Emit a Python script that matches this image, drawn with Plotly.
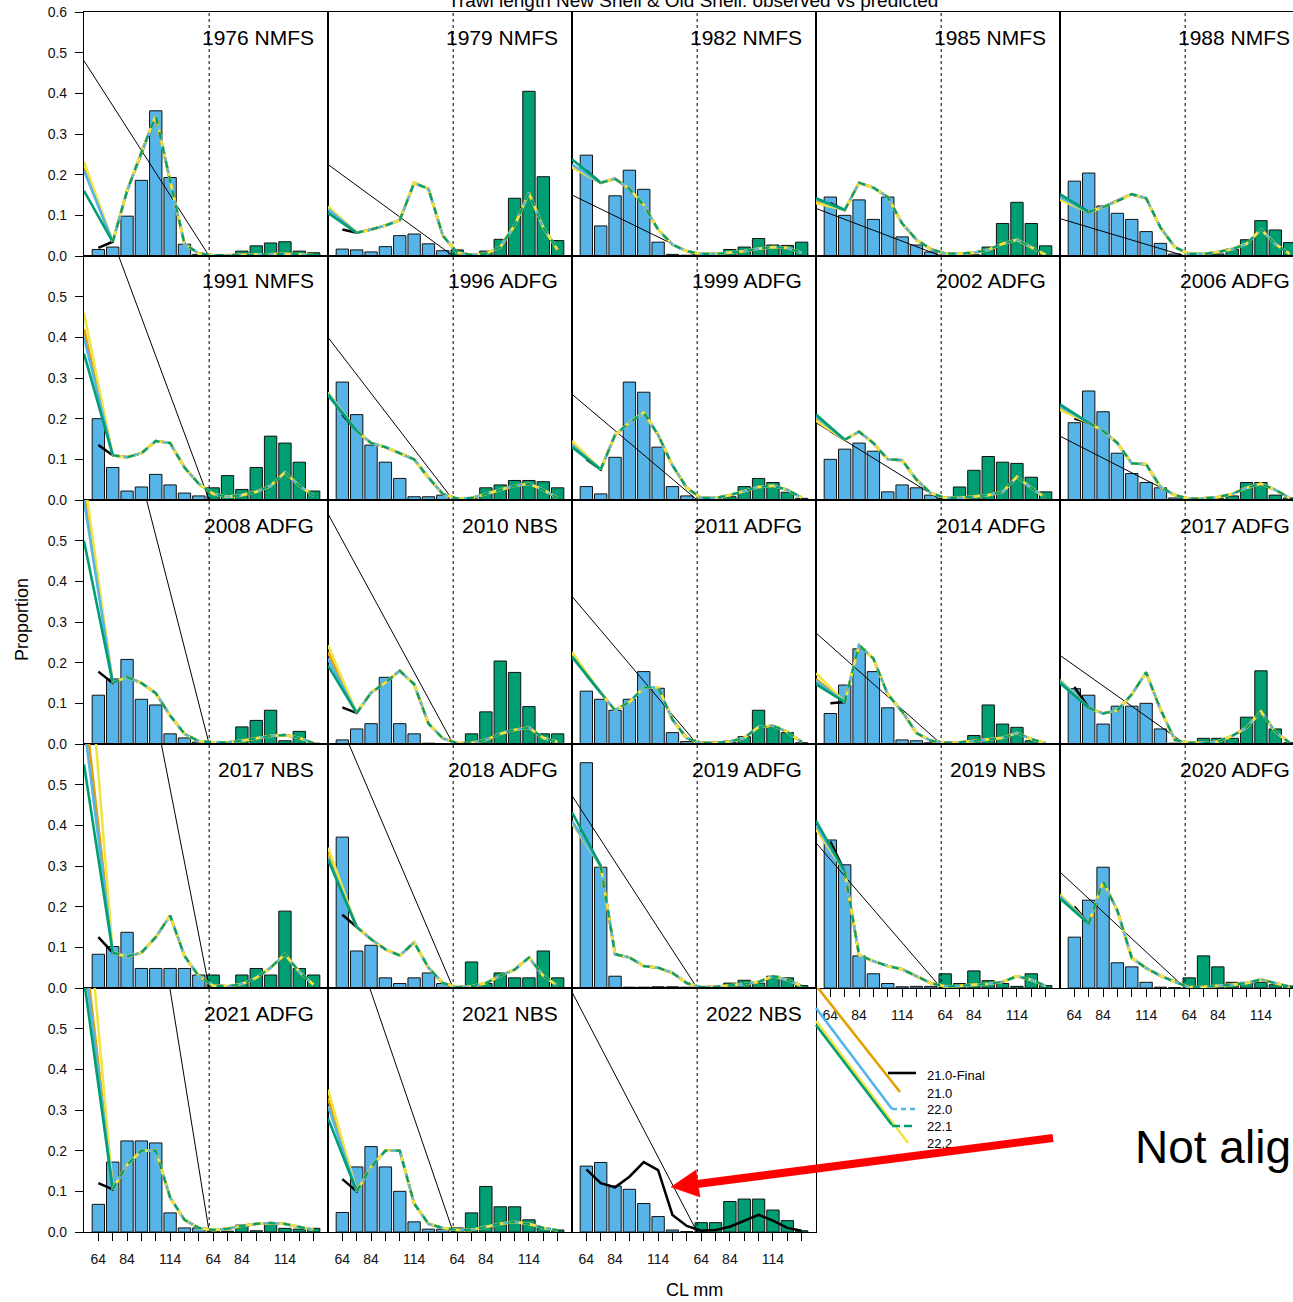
import plotly.graph_objects as go

W, H = 1293, 1302

# ---------------- data ----------------
panel_labels = ["1976 NMFS", "1979 NMFS", "1982 NMFS", "1985 NMFS", "1988 NMFS",
                "1991 NMFS", "1996 ADFG", "1999 ADFG", "2002 ADFG", "2006 ADFG",
                "2008 ADFG", "2010 NBS", "2011 ADFG", "2014 ADFG", "2017 ADFG",
                "2017 NBS", "2018 ADFG", "2019 ADFG", "2019 NBS", "2020 ADFG",
                "2021 ADFG", "2021 NBS", "2022 NBS"]

new_shell_obs = [
    [0.016, 0.022, 0.098, 0.186, 0.357, 0.193, 0.029, 0.004],
    [0.017, 0.015, 0.010, 0.023, 0.050, 0.054, 0.030, 0.013],
    [0.248, 0.074, 0.148, 0.211, 0.164, 0.034, 0.004, 0.002],
    [0.145, 0.100, 0.138, 0.090, 0.145, 0.047, 0.027, 0.010],
    [0.184, 0.204, 0.123, 0.105, 0.090, 0.060, 0.031, 0.005],
    [0.200, 0.080, 0.022, 0.032, 0.063, 0.037, 0.017, 0.010],
    [0.290, 0.210, 0.135, 0.093, 0.053, 0.008, 0.008, 0.012],
    [0.033, 0.015, 0.105, 0.290, 0.265, 0.130, 0.033, 0.010],
    [0.100, 0.125, 0.140, 0.120, 0.020, 0.037, 0.030, 0.012],
    [0.190, 0.268, 0.217, 0.115, 0.065, 0.043, 0.030, 0.005],
    [0.120, 0.160, 0.208, 0.110, 0.096, 0.025, 0.015, 0.005],
    [0.010, 0.037, 0.050, 0.164, 0.050, 0.025, 0.002, 0.001],
    [0.130, 0.110, 0.083, 0.110, 0.178, 0.137, 0.028, 0.006],
    [0.075, 0.145, 0.234, 0.178, 0.089, 0.010, 0.008, 0.003],
    [0.136, 0.120, 0.049, 0.093, 0.093, 0.100, 0.037, 0.002],
    [0.083, 0.102, 0.137, 0.048, 0.048, 0.048, 0.048, 0.032],
    [0.371, 0.091, 0.105, 0.025, 0.011, 0.025, 0.037, 0.011],
    [0.554, 0.297, 0.029, 0.002, 0.002, 0.003, 0.003, 0.002],
    [0.364, 0.303, 0.079, 0.035, 0.011, 0.003, 0.004, 0.004],
    [0.125, 0.216, 0.297, 0.062, 0.052, 0.014, 0.002, 0.001],
    [0.068, 0.172, 0.224, 0.224, 0.219, 0.047, 0.010, 0.010],
    [0.048, 0.160, 0.210, 0.160, 0.100, 0.025, 0.007, 0.007],
    [0.162, 0.171, 0.113, 0.105, 0.070, 0.038, 0.005, 0.001],
]

old_shell_obs = [
    [0.002, 0.003, 0.012, 0.025, 0.032, 0.035, 0.012, 0.008],
    [0.015, 0.003, 0.012, 0.041, 0.142, 0.405, 0.195, 0.038],
    [0.001, 0.005, 0.016, 0.022, 0.043, 0.027, 0.026, 0.034],
    [0.002, 0.002, 0.003, 0.022, 0.080, 0.132, 0.080, 0.025],
    [0.001, 0.003, 0.005, 0.017, 0.040, 0.087, 0.064, 0.033],
    [0.030, 0.060, 0.026, 0.080, 0.157, 0.140, 0.093, 0.022],
    [0.002, 0.003, 0.030, 0.037, 0.048, 0.048, 0.045, 0.030],
    [0.002, 0.003, 0.008, 0.033, 0.053, 0.043, 0.019, 0.004],
    [0.003, 0.032, 0.073, 0.107, 0.093, 0.090, 0.056, 0.020],
    [0.002, 0.002, 0.003, 0.010, 0.043, 0.043, 0.012, 0.005],
    [0.002, 0.002, 0.042, 0.058, 0.083, 0.008, 0.031, 0.002],
    [0.000, 0.025, 0.079, 0.204, 0.176, 0.092, 0.025, 0.025],
    [0.001, 0.002, 0.005, 0.018, 0.083, 0.042, 0.028, 0.003],
    [0.001, 0.002, 0.021, 0.096, 0.049, 0.041, 0.008, 0.001],
    [0.001, 0.014, 0.014, 0.014, 0.066, 0.180, 0.037, 0.003],
    [0.032, 0.004, 0.032, 0.048, 0.032, 0.189, 0.048, 0.032],
    [0.002, 0.064, 0.011, 0.037, 0.025, 0.025, 0.091, 0.025],
    [0.001, 0.002, 0.012, 0.019, 0.012, 0.029, 0.025, 0.006],
    [0.035, 0.011, 0.042, 0.018, 0.011, 0.004, 0.035, 0.006],
    [0.025, 0.079, 0.052, 0.014, 0.014, 0.014, 0.008, 0.005],
    [0.002, 0.002, 0.017, 0.003, 0.022, 0.009, 0.007, 0.009],
    [0.010, 0.047, 0.112, 0.062, 0.062, 0.030, 0.010, 0.005],
    [0.023, 0.023, 0.075, 0.081, 0.081, 0.054, 0.028, 0.003],
]

pred_21_0_final = [
    [0.020, 0.035, 0.160, 0.255, 0.345, 0.185, 0.030, 0.006, 0.002, 0.002, 0.003, 0.004, 0.005, 0.005, 0.004, 0.002],
    [0.065, 0.057, 0.065, 0.075, 0.088, 0.180, 0.165, 0.050, 0.008, 0.003, 0.006, 0.022, 0.075, 0.155, 0.070, 0.015],
    [0.210, 0.180, 0.190, 0.165, 0.125, 0.065, 0.028, 0.012, 0.005, 0.005, 0.008, 0.012, 0.018, 0.022, 0.020, 0.008],
    [0.130, 0.113, 0.180, 0.168, 0.145, 0.080, 0.040, 0.017, 0.006, 0.006, 0.008, 0.015, 0.030, 0.040, 0.022, 0.003],
    [0.130, 0.108, 0.120, 0.135, 0.152, 0.142, 0.070, 0.022, 0.005, 0.005, 0.010, 0.017, 0.030, 0.065, 0.030, 0.005],
    [0.135, 0.110, 0.105, 0.115, 0.145, 0.140, 0.080, 0.040, 0.015, 0.008, 0.012, 0.020, 0.035, 0.068, 0.035, 0.010],
    [0.210, 0.170, 0.140, 0.130, 0.115, 0.100, 0.055, 0.015, 0.003, 0.005, 0.015, 0.025, 0.035, 0.040, 0.025, 0.005],
    [0.100, 0.075, 0.160, 0.190, 0.215, 0.160, 0.085, 0.030, 0.005, 0.005, 0.012, 0.022, 0.032, 0.035, 0.025, 0.006],
    [0.170, 0.148, 0.168, 0.140, 0.100, 0.098, 0.050, 0.017, 0.005, 0.005, 0.008, 0.012, 0.020, 0.057, 0.030, 0.005],
    [0.200, 0.190, 0.170, 0.140, 0.090, 0.088, 0.032, 0.012, 0.003, 0.004, 0.007, 0.015, 0.030, 0.040, 0.025, 0.005],
    [0.178, 0.150, 0.165, 0.150, 0.125, 0.070, 0.025, 0.007, 0.004, 0.004, 0.008, 0.014, 0.020, 0.022, 0.015, 0.002],
    [0.090, 0.076, 0.126, 0.151, 0.180, 0.147, 0.050, 0.014, 0.002, 0.003, 0.010, 0.025, 0.035, 0.040, 0.015, 0.005],
    [0.170, 0.126, 0.083, 0.103, 0.139, 0.139, 0.060, 0.014, 0.003, 0.003, 0.006, 0.015, 0.042, 0.045, 0.030, 0.005],
    [0.100, 0.103, 0.243, 0.210, 0.122, 0.080, 0.027, 0.008, 0.003, 0.004, 0.008, 0.012, 0.015, 0.027, 0.012, 0.002],
    [0.140, 0.089, 0.075, 0.083, 0.122, 0.176, 0.085, 0.010, 0.003, 0.003, 0.006, 0.020, 0.040, 0.080, 0.030, 0.003],
    [0.125, 0.087, 0.077, 0.087, 0.125, 0.178, 0.079, 0.029, 0.006, 0.004, 0.010, 0.025, 0.050, 0.083, 0.040, 0.008],
    [0.180, 0.150, 0.120, 0.095, 0.080, 0.112, 0.050, 0.012, 0.002, 0.004, 0.012, 0.030, 0.045, 0.075, 0.030, 0.005],
    [0.360, 0.300, 0.083, 0.075, 0.054, 0.050, 0.037, 0.012, 0.002, 0.003, 0.006, 0.010, 0.015, 0.029, 0.020, 0.005],
    [0.360, 0.287, 0.081, 0.066, 0.054, 0.046, 0.029, 0.012, 0.004, 0.005, 0.008, 0.010, 0.015, 0.029, 0.020, 0.005],
    [0.200, 0.158, 0.262, 0.190, 0.074, 0.049, 0.030, 0.015, 0.002, 0.003, 0.005, 0.008, 0.012, 0.021, 0.012, 0.003],
    [0.120, 0.105, 0.165, 0.200, 0.200, 0.085, 0.030, 0.010, 0.005, 0.008, 0.015, 0.020, 0.022, 0.020, 0.012, 0.005],
    [0.130, 0.100, 0.160, 0.200, 0.200, 0.070, 0.020, 0.010, 0.005, 0.005, 0.012, 0.020, 0.025, 0.020, 0.010, 0.004],
    [0.154, 0.120, 0.110, 0.136, 0.172, 0.152, 0.042, 0.015, 0.003, 0.005, 0.013, 0.028, 0.042, 0.028, 0.010, 0.003],
]

# values at the left panel edge where the misaligned model curves begin (None = model absent)
start_21_0 = [0.215, 0.118, 0.220, 0.135, 0.140, 0.42, 0.260, 0.140, 0.200, 0.225, 0.62, 0.226,
              0.220, 0.160, 0.155, 0.71, 0.330, 0.410, 0.395, 0.228, 0.72, 0.33, None]
start_22_0 = [0.210, 0.115, 0.225, 0.140, 0.145, 0.40, 0.262, 0.135, 0.205, 0.230, 0.60, 0.210,
              0.215, 0.155, 0.155, 0.65, 0.320, 0.410, 0.400, 0.225, 0.68, 0.31, None]
start_22_1 = [0.160, 0.106, 0.238, 0.142, 0.152, 0.36, 0.258, 0.130, 0.210, 0.235, 0.50, 0.193,
              0.215, 0.147, 0.150, 0.55, 0.316, 0.432, 0.411, 0.220, 0.62, 0.28, None]
start_22_2 = [0.232, 0.122, 0.218, 0.130, 0.138, 0.46, 0.265, 0.145, 0.195, 0.222, 0.66, 0.243,
              0.226, 0.174, 0.158, 0.97, 0.345, 0.405, 0.390, 0.230, 0.90, 0.35, None]
# thin black connector line: value at left edge, ends at the shell divider
diag_start = [0.48, 0.225, 0.15, 0.117, 0.092, 0.83, 0.40, 0.26, 0.19, 0.157, 1.20, 0.566,
              0.363, 0.273, 0.218, 1.57, 0.72, 0.473, 0.357, 0.285, 1.91, 0.90, 0.59]

bin_pos = list(range(1, 17))
x_tick_text = ["64", "", "84", "", "", "114", "", "", "64", "", "84", "", "", "114", "", ""]
y_tick_vals = [0.0, 0.1, 0.2, 0.3, 0.4, 0.5, 0.6]
y_tick_text = ["0.0", "0.1", "0.2", "0.3", "0.4", "0.5", "0.6"]
legend_labels = ["21.0-Final", "21.0", "22.0", "22.1", "22.2"]

SHELL_SPLIT = 8.72
BLUE = "#56B4E9"
GREEN = "#009E73"
ORANGE = "#E69F00"
YELLOW = "#F0E442"
FONT = "Liberation Sans, Arial, sans-serif"

fig = go.Figure()
annotations = []


def px(x):
    return x / W


def py(y):
    return 1 - y / H


for i, lab in enumerate(panel_labels):
    r, c = divmod(i, 5)
    n = i + 1
    xa, ya = ("x", "y") if n == 1 else (f"x{n}", f"y{n}")
    left = 84 + 244 * c
    full_right = left + 244
    right = min(full_right, W)
    top = 12 + 244 * r
    bottom = 256 + 244 * r
    xmax = 17 * (right - left) / 244

    common = dict(xaxis=xa, yaxis=ya, showlegend=False, hoverinfo="skip")
    fig.add_trace(go.Scatter(x=[SHELL_SPLIT, SHELL_SPLIT], y=[0, 0.6], mode="lines",
                             line=dict(color="black", width=1, dash="dot"), **common))
    fig.add_trace(go.Bar(x=bin_pos[:8], y=new_shell_obs[i], width=0.86,
                         marker=dict(color=BLUE, line=dict(color="#111", width=1)), **common))
    fig.add_trace(go.Bar(x=bin_pos[8:], y=old_shell_obs[i], width=0.86,
                         marker=dict(color=GREEN, line=dict(color="#111", width=1)), **common))
    fig.add_trace(go.Scatter(x=[0, SHELL_SPLIT], y=[diag_start[i], 0], mode="lines",
                             line=dict(color="black", width=1), **common))
    fig.add_trace(go.Scatter(x=bin_pos, y=pred_21_0_final[i], mode="lines",
                             line=dict(color="black", width=2.5), **common))
    if start_21_0[i] is not None:
        curve = pred_21_0_final[i]
        models = [(start_21_0, ORANGE, "solid", 2.6),
                  (start_22_2, YELLOW, "solid", 2.8),
                  (start_22_0, BLUE, "5px,6px", 2.2),
                  (start_22_1, GREEN, "7px,8px", 2.2)]
        for starts, color, dash, wd in models:
            fig.add_trace(go.Scatter(x=[0, bin_pos[1]], y=[starts[i], curve[1]], mode="lines",
                                     line=dict(color=color, width=2.6), **common))
        for starts, color, dash, wd in models:
            fig.add_trace(go.Scatter(x=bin_pos[1:], y=curve[1:], mode="lines",
                                     line=dict(color=color, width=wd, dash=dash), **common))

    show_x = (r == 4) or (r == 3 and c >= 3)
    xaxis = dict(domain=[px(left), px(right)], range=[0, xmax], anchor=ya,
                 showgrid=False, zeroline=False, showline=True, mirror=True,
                 linecolor="black", linewidth=1.2, fixedrange=True, automargin=False,
                 tickvals=bin_pos, ticktext=x_tick_text,
                 ticks="outside" if show_x else "", ticklen=8, tickcolor="black",
                 showticklabels=show_x, ticklabelstandoff=6,
                 tickfont=dict(family=FONT, size=14, color="#111"))
    show_y = (c == 0)
    nt = 7 if r == 0 else 6
    yaxis = dict(domain=[py(bottom), py(top)], range=[0, 0.6], anchor=xa,
                 showgrid=False, zeroline=False, showline=True, mirror=(c < 4),
                 linecolor="black", linewidth=1.2, fixedrange=True, automargin=False,
                 tickvals=y_tick_vals[:nt], ticktext=y_tick_text[:nt],
                 ticks="outside" if show_y else "", ticklen=8, tickcolor="black",
                 showticklabels=show_y, ticklabelstandoff=5,
                 tickfont=dict(family=FONT, size=14, color="#111"))
    fig.layout["xaxis" if n == 1 else f"xaxis{n}"] = xaxis
    fig.layout["yaxis" if n == 1 else f"yaxis{n}"] = yaxis

    annotations.append(dict(text=lab, x=px(full_right - 12), y=py(top + 25), xref="paper", yref="paper",
                            xanchor="right", yanchor="middle", showarrow=False,
                            font=dict(family=FONT, size=21, color="black")))

# ---------------- overlay for legend / notes (pixel coordinates) ----------------
OX, OY = "x30", "y30"
fig.layout["xaxis30"] = dict(domain=[0, 1], range=[0, W], anchor="y30", visible=False, fixedrange=True)
fig.layout["yaxis30"] = dict(domain=[0, 1], range=[H, 0], anchor="x30", visible=False, fixedrange=True)


def oline(xs, ys, color, width, dash="solid"):
    fig.add_trace(go.Scatter(x=xs, y=ys, mode="lines", line=dict(color=color, width=width, dash=dash),
                             xaxis=OX, yaxis=OY, showlegend=False, hoverinfo="skip"))


oline([818, 900], [988, 1092], ORANGE, 2.6)
oline([816, 892], [1008, 1109], BLUE, 2.6)
oline([816, 908], [1021, 1143], YELLOW, 2.6)
oline([816, 892], [1025, 1125], GREEN, 2.6)
oline([888, 916], [1073, 1073], "black", 2.6)
oline([892, 915], [1109, 1109], BLUE, 2.6, "5px,4px")
oline([892, 912], [1126, 1126], GREEN, 2.6, "8px,4px")

fig.add_trace(go.Scatter(x=[927] * 5, y=[1077, 1095, 1111, 1128, 1145], mode="text",
                         text=legend_labels, textposition="middle right",
                         textfont=dict(family=FONT, size=13, color="black"),
                         xaxis=OX, yaxis=OY, showlegend=False, hoverinfo="skip"))
fig.add_trace(go.Scatter(x=[1135], y=[1151], mode="text", text=["Not aligned"], textposition="middle right",
                         textfont=dict(family=FONT, size=46, color="black"),
                         xaxis=OX, yaxis=OY, showlegend=False, hoverinfo="skip"))
# red arrow
oline([1053, 697], [1138, 1184], "red", 8)
fig.add_trace(go.Scatter(x=[671, 696, 700, 671], y=[1187, 1170, 1197, 1187], mode="lines", fill="toself",
                         fillcolor="red", line=dict(color="red", width=0.5),
                         xaxis=OX, yaxis=OY, showlegend=False, hoverinfo="skip"))

annotations += [
    dict(text="Trawl length New Shell & Old Shell: observed vs predicted", x=px(693), y=py(0),
         xref="paper", yref="paper", xanchor="center", yanchor="middle", showarrow=False,
         font=dict(family=FONT, size=19, color="black")),
    dict(text="Proportion", x=px(22), y=py(620), xref="paper", yref="paper", textangle=-90,
         xanchor="center", yanchor="middle", showarrow=False, font=dict(family=FONT, size=18, color="black")),
    dict(text="CL mm", x=px(694), y=py(1290), xref="paper", yref="paper",
         xanchor="center", yanchor="middle", showarrow=False, font=dict(family=FONT, size=18, color="black")),
]

fig.update_layout(width=W, height=H, margin=dict(l=0, r=0, t=0, b=0, pad=0, autoexpand=False),
                  autosize=False, paper_bgcolor="white", plot_bgcolor="rgba(0,0,0,0)",
                  barmode="overlay", showlegend=False, annotations=annotations,
                  font=dict(family=FONT))

post = ("document.documentElement.style.overflow='hidden';"
        "document.body.style.margin='0px';document.body.style.overflow='hidden';"
        "var gd=document.getElementById('{plot_id}');"
        "gd.style.position='absolute';gd.style.left='0px';gd.style.top='0px';")
fig.write_html("out.html", config={"displayModeBar": False}, post_script=post)
